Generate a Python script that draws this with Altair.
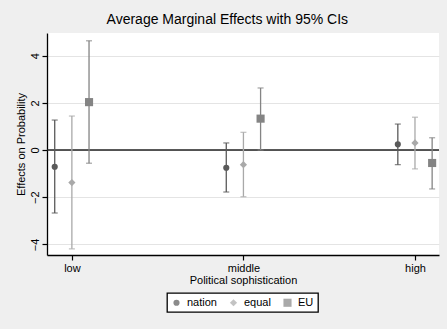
import altair as alt
import pandas as pd

groups = ["low", "middle", "high"]
series = ["nation", "equal", "EU"]
colors = ["#5a5a5a", "#a9a9a9", "#848484"]
shapes = ["circle", "diamond", "square"]
sizes = [38, 66, 44]

est = {
    "nation": [-0.71, -0.75, 0.24],
    "equal": [-1.38, -0.62, 0.30],
    "EU": [2.03, 1.33, -0.55],
}
lo = {
    "nation": [-2.67, -1.78, -0.62],
    "equal": [-4.19, -1.98, -0.80],
    "EU": [-0.56, 0.00, -1.65],
}
hi = {
    "nation": [1.27, 0.30, 1.10],
    "equal": [1.44, 0.75, 1.39],
    "EU": [4.63, 2.63, 0.52],
}

rows = []
for s in series:
    for gi, g in enumerate(groups):
        rows.append({"group": g, "gi": gi + 1, "series": s,
                     "est": est[s][gi], "lo": lo[s][gi], "hi": hi[s][gi]})
df = pd.DataFrame(rows)

font = "Liberation Sans"
labels_js = "[" + ",".join("'%s'" % g for g in groups) + "]"
series_js = "[" + ",".join("'%s'" % s for s in series) + "]"

base = alt.Chart(df).transform_calculate(
    xpos="datum.gi + (indexof(%s, datum.series) - 1) * 0.1" % series_js
)

xenc = alt.X("xpos:Q",
             scale=alt.Scale(domain=[0.855, 3.14], nice=False, zero=False),
             axis=alt.Axis(values=[1, 2, 3], title="Political sophistication",
                           labelExpr="%s[datum.value - 1]" % labels_js,
                           grid=False, titlePadding=1))
yscale = alt.Scale(domain=[-4.45, 4.96], nice=False, zero=False)
legend = alt.Legend(title=None, orient="none", direction="horizontal",
                    legendX=120, legendY=260)
color = alt.Color("series:N", scale=alt.Scale(domain=series, range=colors), legend=legend)

rules = base.mark_rule(strokeWidth=1.3).encode(
    x=xenc,
    y=alt.Y("lo:Q", scale=yscale,
            axis=alt.Axis(values=[-4, -2, 0, 2, 4], title="Effects on Probability",
                          labelAngle=270, labelAlign="center", labelBaseline="bottom",
                          grid=True, gridColor="#e4e4e4", gridWidth=1, titlePadding=3)),
    y2="hi:Q",
    color=color,
)
caps_lo = base.mark_tick(orient="horizontal", size=6, thickness=1.3).encode(
    x="xpos:Q", y="lo:Q", color=color)
caps_hi = base.mark_tick(orient="horizontal", size=6, thickness=1.3).encode(
    x="xpos:Q", y="hi:Q", color=color)

zero_df = pd.DataFrame({"z": [0]})
zero = alt.Chart(zero_df).mark_rule(color="#222222", strokeWidth=1.3).encode(y="z:Q")

points = base.mark_point(filled=True, opacity=1).encode(
    x="xpos:Q",
    y="est:Q",
    color=color,
    shape=alt.Shape("series:N", scale=alt.Scale(domain=series, range=shapes), legend=legend),
    size=alt.Size("series:N", scale=alt.Scale(domain=series, range=sizes), legend=legend),
)

chart = alt.layer(zero, rules, caps_lo, caps_hi, points).properties(
    width=392, height=222,
    autosize="none",
    padding={"left": 47, "top": 33, "right": 8, "bottom": 74},
    title=alt.TitleParams("Average Marginal Effects with 95% CIs", fontSize=14,
                          font=font, fontWeight="normal", color="black",
                          frame="bounds", anchor="middle", offset=6),
    background="#efefef",
).configure_view(
    fill="white", strokeWidth=0
).configure_axis(
    labelFont=font, titleFont=font, labelFontSize=11, titleFontSize=11,
    titleFontWeight="normal", labelColor="black", titleColor="black",
    domainColor="black", domainWidth=1.3, tickColor="black", tickSize=5,
    tickWidth=1.2, labelPadding=2,
).configure_legend(
    labelFont=font, labelFontSize=11, labelColor="black",
    strokeColor="black", fillColor="white", padding=4, cornerRadius=0,
    columnPadding=11, labelOffset=5, symbolStrokeWidth=0, strokeWidth=1.3,
)

chart.save("out.html", embed_options={"renderer": "svg", "actions": False})
